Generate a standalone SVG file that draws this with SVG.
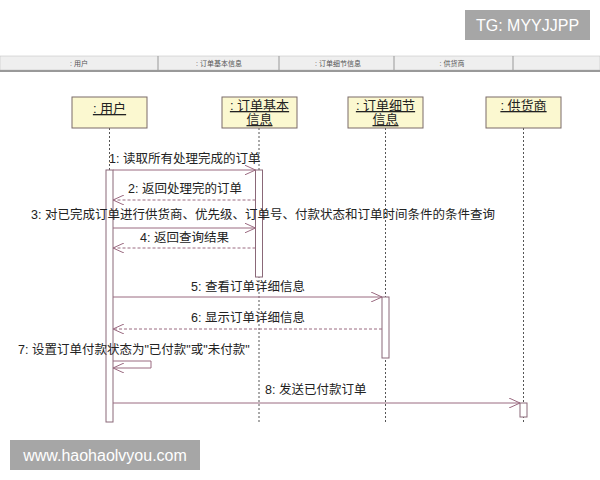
<svg xmlns="http://www.w3.org/2000/svg" width="600" height="480" viewBox="0 0 600 480">
<defs>
<style>
text{font-family:"Liberation Sans","Noto Sans CJK SC",sans-serif;fill:#222}
.hd{font-size:7px;fill:#555;text-anchor:middle}
.nb{fill:#fbf8d0;stroke:#7a6a68;stroke-width:1}
.nt{font-size:13px;text-anchor:middle;text-decoration:underline}
.ll{stroke:#555;stroke-width:1;stroke-dasharray:2,2}
.act{fill:#fff;stroke:#8a6878;stroke-width:1}
.msg{stroke:#9a6a80;stroke-width:1;fill:none}
.ret{stroke:#9a6a80;stroke-width:1;fill:none;stroke-dasharray:3,2}
.lb{font-size:12.5px}
.wm{fill:#a6a6a6}
.wt{font-size:16px;fill:#fff}
</style>
<marker id="ah" markerWidth="12" markerHeight="10" refX="11" refY="5" orient="auto" markerUnits="userSpaceOnUse">
<path d="M0,0 L11,5 L0,10" fill="none" stroke="#9a6a80" stroke-width="1"/>
</marker>
</defs>
<rect width="600" height="480" fill="#fff"/>
<g id="header">
<rect x="0" y="56" width="600" height="14" fill="#efefef" stroke="#bbb" stroke-width="0.5"/>
<rect x="0" y="70" width="600" height="2" fill="#999"/>
<line x1="158" y1="56" x2="158" y2="70" stroke="#999"/>
<line x1="279" y1="56" x2="279" y2="70" stroke="#999"/>
<line x1="394" y1="56" x2="394" y2="70" stroke="#999"/>
<line x1="513" y1="56" x2="513" y2="70" stroke="#999"/>
<text class="hd" x="79" y="66">: 用户</text>
<text class="hd" x="219" y="66">: 订单基本信息</text>
<text class="hd" x="338" y="66">: 订单细节信息</text>
<text class="hd" x="452" y="66">: 供货商</text>
</g>
<g id="lifelines">
<line class="ll" x1="109.5" y1="128" x2="109.5" y2="422"/>
<line class="ll" x1="259" y1="128" x2="259" y2="422"/>
<line class="ll" x1="385.5" y1="128" x2="385.5" y2="422"/>
<line class="ll" x1="523.5" y1="128" x2="523.5" y2="422"/>
</g>
<g id="user">
<rect class="nb" x="72" y="97" width="75" height="31"/>
<text class="nt" x="109.5" y="113">: 用户</text>
<rect class="act" x="106" y="170" width="7" height="252"/>
</g>
<g id="orderBasic">
<rect class="nb" x="222" y="97" width="75" height="31"/>
<text class="nt" x="259.5" y="110">: 订单基本</text>
<text class="nt" x="259.5" y="124">信息</text>
<rect class="act" x="255.5" y="170" width="7" height="107"/>
</g>
<g id="orderDetail">
<rect class="nb" x="348" y="97" width="75" height="31"/>
<text class="nt" x="385.5" y="110">: 订单细节</text>
<text class="nt" x="385.5" y="124">信息</text>
<rect class="act" x="382" y="297" width="7" height="61"/>
</g>
<g id="supplier">
<rect class="nb" x="486" y="97" width="75" height="31"/>
<text class="nt" x="523.5" y="110">: 供货商</text>
<rect class="act" x="520" y="403" width="7" height="14"/>
</g>
<g id="connectors">
<line class="msg" x1="113" y1="170" x2="255.5" y2="170" marker-end="url(#ah)"/>
<line class="ret" x1="255.5" y1="200" x2="113" y2="200" marker-end="url(#ah)"/>
<line class="msg" x1="113" y1="228" x2="255.5" y2="228" marker-end="url(#ah)"/>
<line class="ret" x1="255.5" y1="248" x2="113" y2="248" marker-end="url(#ah)"/>
<line class="msg" x1="113" y1="297" x2="382" y2="297" marker-end="url(#ah)"/>
<line class="ret" x1="382" y1="329" x2="113" y2="329" marker-end="url(#ah)"/>
<path class="msg" d="M113,361 H151 V368 H113" marker-end="url(#ah)"/>
<line class="msg" x1="113" y1="403" x2="520" y2="403" marker-end="url(#ah)"/>
</g>
<g id="labels">
<text class="lb" x="109" y="163">1: 读取所有处理完成的订单</text>
<text class="lb" x="128" y="193">2: 返回处理完的订单</text>
<text class="lb" x="31" y="219">3: 对已完成订单进行供货商、优先级、订单号、付款状态和订单时间条件的条件查询</text>
<text class="lb" x="140" y="242">4: 返回查询结果</text>
<text class="lb" x="191" y="291">5: 查看订单详细信息</text>
<text class="lb" x="191" y="322">6: 显示订单详细信息</text>
<text class="lb" x="18" y="354">7: 设置订单付款状态为"已付款"或"未付款"</text>
<text class="lb" x="265" y="394">8: 发送已付款订单</text>
</g>
<g id="watermarks">
<rect class="wm" x="465" y="10" width="125" height="30"/>
<text class="wt" x="527.5" y="31" text-anchor="middle">TG: MYYJJPP</text>
<rect class="wm" x="10" y="440" width="190" height="30"/>
<text class="wt" x="105" y="461" text-anchor="middle">www.haohaolvyou.com</text>
</g>
</svg>
